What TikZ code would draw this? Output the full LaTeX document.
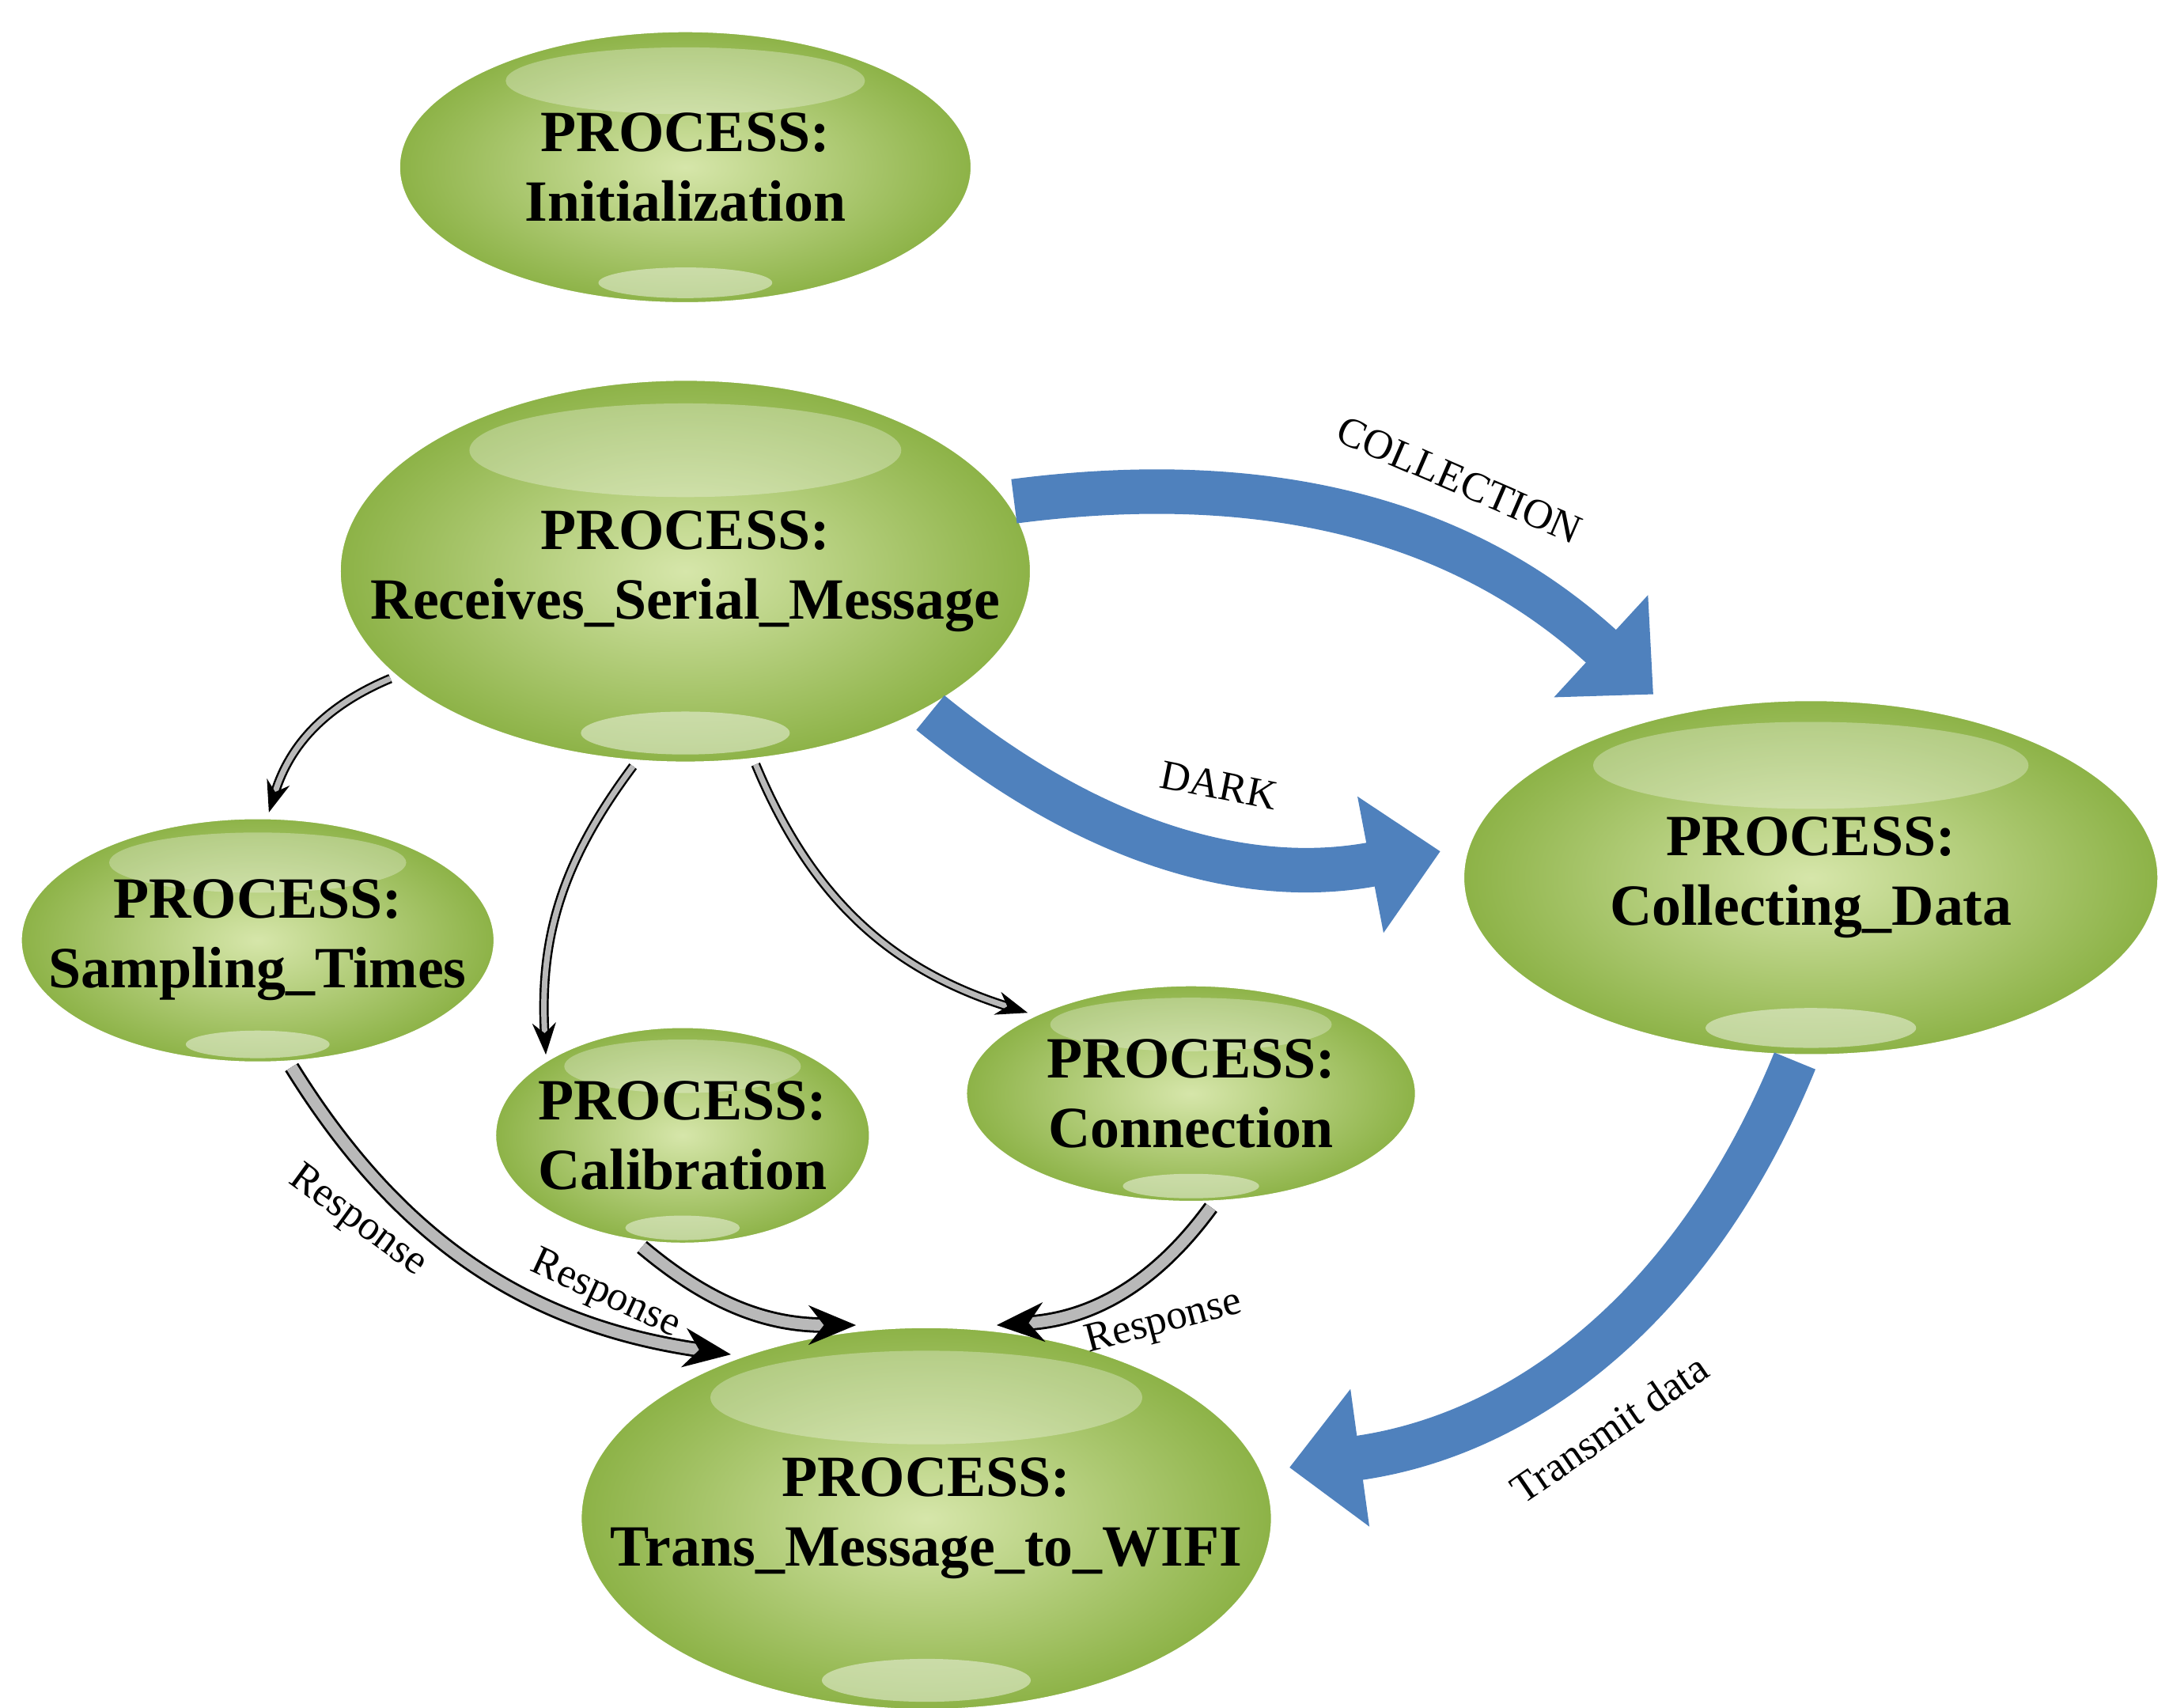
\documentclass[tikz,border=0pt]{standalone}
\usepackage{fontspec}
\setmainfont{Liberation Serif}
\usetikzlibrary{arrows.meta,shapes.geometric}
\definecolor{leaf}{RGB}{140,178,70}
\definecolor{leaflight}{RGB}{214,230,170}
\definecolor{flow}{RGB}{79,129,189}
\begin{document}
\begin{tikzpicture}[x=0.01761cm,y=-0.01761cm,
  proc/.style={ellipse, draw=white, line width=2.5pt, inner color=leaflight, outer color=leaf, inner sep=0pt},
  title/.style={align=center, font=\fontsize{21}{25}\selectfont\bfseries},
  link/.style={-{Stealth[length=4mm,width=3mm]}, draw=black, line width=.7pt, double=gray!55, double distance=2pt},
  wide/.style={-{Stealth[length=6mm,width=5mm]}, draw=black, line width=.8pt, double=gray!55, double distance=4pt},
  bulk/.style={-{Triangle[length=9mm,width=17mm]}, draw=flow, line width=16pt, shorten >=8pt},
  lbl/.style={font=\fontsize{15}{18}\selectfont, sloped}
]
  \useasboundingbox (0,0) rectangle (1560,1226);
  \node[proc, minimum width=7.3cm, minimum height=3.5cm] (init) at (492,120) {};
  \node[proc, minimum width=8.8cm, minimum height=4.9cm] (recv) at (492,410) {};
  \node[proc, minimum width=6.05cm, minimum height=3.15cm] (samp) at (185,675) {};
  \node[proc, minimum width=4.8cm, minimum height=2.8cm] (calib) at (490,815) {};
  \node[proc, minimum width=5.75cm, minimum height=2.8cm] (conn) at (855,785) {};
  \node[proc, minimum width=8.85cm, minimum height=4.55cm] (coll) at (1300,630) {};
  \node[proc, minimum width=8.8cm, minimum height=4.9cm] (trans) at (665,1090) {};
  % glossy highlights
  \foreach \cx/\cy/\rx/\ry in {492/120/208/100, 492/410/250/140, 185/675/172/90, 490/815/137/80,
      855/785/163/80, 1300/630/252/130, 665/1090/250/140} {
    \fill[white, opacity=.3] (\cx,\cy-0.62*\ry) ellipse ({0.62*\rx} and {0.24*\ry});
    \fill[white, opacity=.45] (\cx,\cy+0.83*\ry) ellipse ({0.3*\rx} and {0.11*\ry});
  }
  \node[title] (initT) at (init) {PROCESS:\\Initialization};
  \node[title] (recvT) at (recv) {PROCESS:\\Receives\_Serial\_Message};
  \node[title] (sampT) at (samp) {PROCESS:\\Sampling\_Times};
  \node[title] (calibT) at (calib) {PROCESS:\\Calibration};
  \node[title] (connT) at (conn) {PROCESS:\\Connection};
  \node[title] (collT) at (coll) {PROCESS:\\Collecting\_Data};
  \node[title] (transT) at (trans) {PROCESS:\\Trans\_Message\_to\_WIFI};
  % requests
  \draw[link] (recv.200) to[bend right=25] (samp.85);
  \draw[link] (recv.255) to[bend right=20] (calib.north west);
  \draw[link] (recv.290) to[bend right=25] (conn.north west);
  % responses
  \draw[wide] (samp.285) to[bend right=25] node[lbl, below left=2pt, pos=.45] {Response} (trans.140);
  \draw[wide] (calib.250) to[bend right=20] node[lbl, below left=6pt, pos=.4] {Response} (trans.110);
  \draw[wide] (conn.280) to[bend left=25] node[lbl, below right=2pt, pos=.75] {Response} (trans.70);
  % data flows
  \draw[bulk] (recv.12) to[bend left=25] node[lbl, above=10pt, pos=.6] {COLLECTION} (coll.130);
  \draw[bulk] (recv.330) to[bend right=25] node[lbl, above=8pt, pos=.55] {DARK} (coll.175);
  \draw[bulk] (coll.265) to[bend left=30] node[lbl, below=12pt, pos=.55] {Transmit data} (trans.8);
\end{tikzpicture}
\end{document}
